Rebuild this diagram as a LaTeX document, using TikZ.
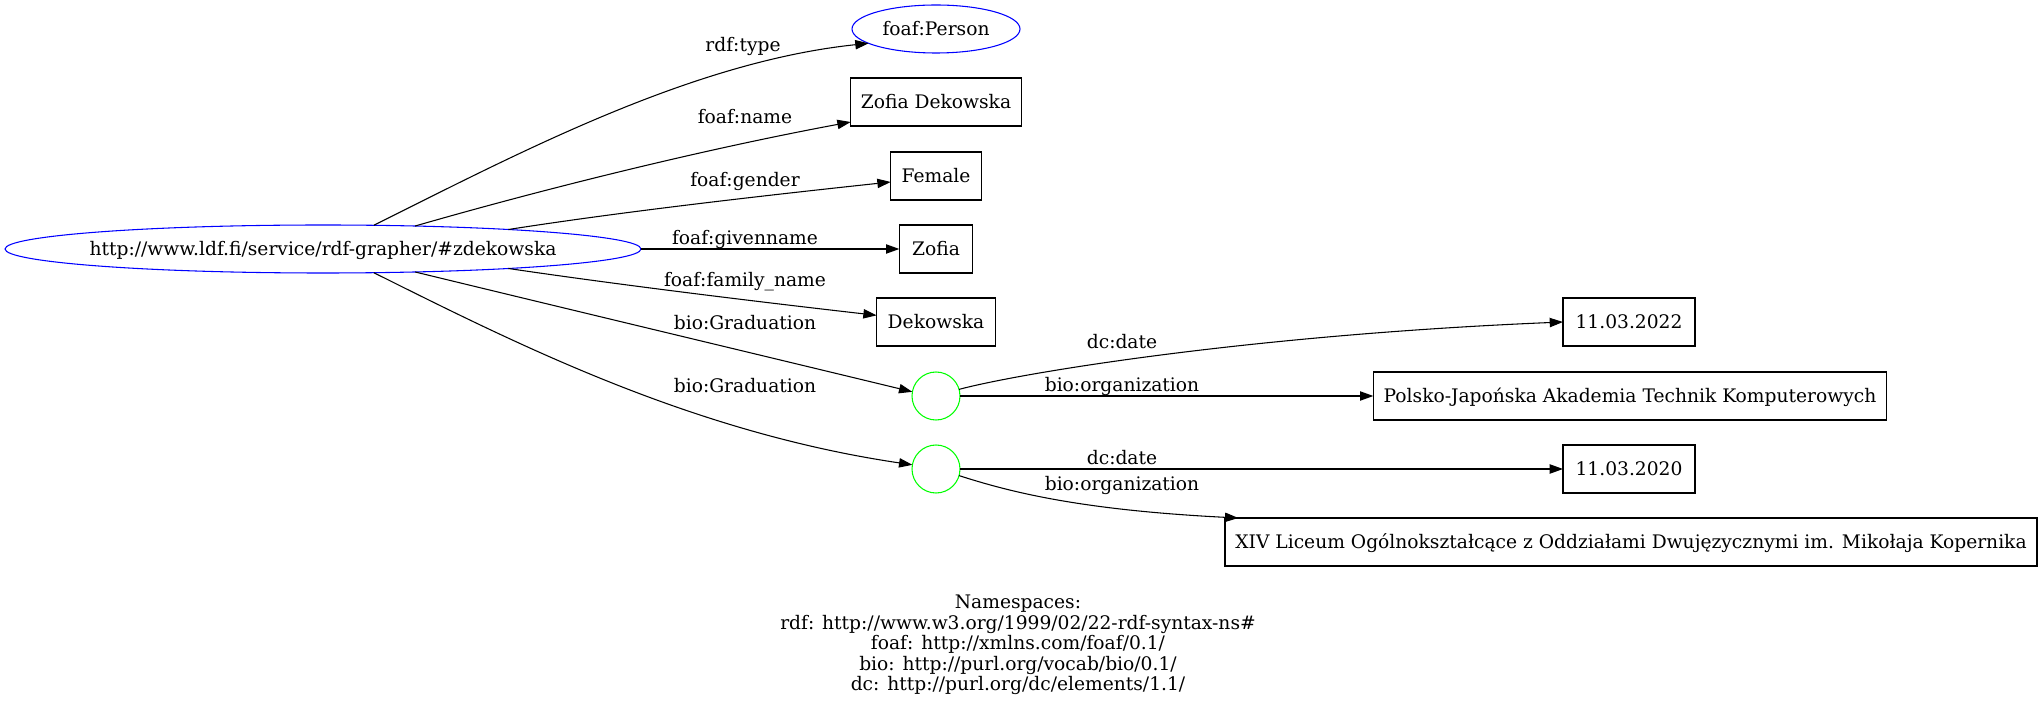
\documentclass[tikz,border=0pt]{standalone}
\usepackage{fontspec}
\setmainfont{DejaVu Serif}
\usetikzlibrary{arrows.meta,shapes.geometric}
\begin{document}
\begin{tikzpicture}[x=0.75pt,y=-0.75pt,
  every node/.style={font=\fontsize{14}{15.4}\selectfont, inner sep=0pt, outer sep=0pt, text height=10pt, text depth=0pt},
  res/.style={draw=blue, line width=0.8pt, ellipse, text=black},
  lit/.style={draw, line width=0.8pt, rectangle, minimum height=36pt},
  blank/.style={draw=green, line width=0.8pt, circle, minimum size=36pt},
  lbl/.style={},
  edge/.style={line width=0.8pt, -{Triangle[length=10pt,width=7pt]}}
]
\useasboundingbox (0,0) rectangle (2038,705);
% nodes
\node[res, minimum width=477pt, minimum height=36pt] (main) at (323,249) {\makebox[0pt][c]{http://www.ldf.fi/service/rdf-grapher/\#zdekowska}};
\node[res, minimum width=126pt, minimum height=36pt] (person) at (936,29) {\makebox[0pt][c]{foaf:Person}};
\node[lit, minimum width=128pt] (zd) at (936,102) {Zofia Dekowska};
\node[lit, minimum width=68pt] (female) at (936,176) {Female};
\node[lit, minimum width=55pt] (zofia) at (936,249) {Zofia};
\node[lit, minimum width=89pt] (dek) at (936,322) {Dekowska};
\node[blank] (b1) at (936,396) {};
\node[blank] (b2) at (936,469) {};
\node[lit, minimum width=99pt] (d22) at (1629,322) {11.03.2022};
\node[lit, minimum width=385pt] (pj) at (1630,396) {Polsko-Japońska Akademia Technik Komputerowych};
\node[lit, minimum width=99pt] (d20) at (1629,469) {11.03.2020};
\node[lit, minimum width=609pt] (xiv) at (1631,542) {XIV Liceum Ogólnokształcące z Oddziałami Dwujęzycznymi im. Mikołaja Kopernika};
% edges
\draw[edge] (main.25.6) .. controls (515,155) and (690,62) .. (person.192);
\draw[edge] (main.14.6) .. controls (540,190) and (700,150) .. ([yshift=3pt]zd.south west);
\draw[edge] (main.6.8) .. controls (620,212) and (760,196) .. ([yshift=-4.5pt]female.west);
\draw[edge] (main.east) -- (zofia.west);
\draw[edge] (main.-6.8) .. controls (620,285) and (760,302) .. ([yshift=5pt]dek.west);
\draw[edge] (main.-14.6) .. controls (580,312) and (760,355) .. (b1.170);
\draw[edge] (main.-25.6) .. controls (515,343) and (690,432) .. (b2.170);
\draw[edge] (b1.16) .. controls (1020,373) and (1250,335) .. (d22.west);
\draw[edge] (b1.east) -- (pj.west);
\draw[edge] (b2.east) -- (d20.west);
\draw[edge] (b2.-16) .. controls (1010,492) and (1080,510) .. ([xshift=10pt]xiv.north west);
% labels
\node[lbl] (l1) at (743,45) {rdf:type};
\node[lbl] (l2) at (745,117) {foaf:name};
\node[lbl] (l3) at (745,180) {foaf:gender};
\node[lbl] (l4) at (745,238) {foaf:givenname};
\node[lbl] (l5) at (745,280) {foaf:family\_name};
\node[lbl] (l6) at (745,323) {bio:Graduation};
\node[lbl] (l7) at (745,386) {bio:Graduation};
\node[lbl] (l8) at (1122,342) {dc:date};
\node[lbl] (l9) at (1122,385) {bio:organization};
\node[lbl] (l10) at (1122,458) {dc:date};
\node[lbl] (l11) at (1122,484) {bio:organization};
% namespaces
\node[align=center, text height=, text depth=] (ns) at (1018,645) {Namespaces:\\rdf: http://www.w3.org/1999/02/22-rdf-syntax-ns\#\\foaf: http://xmlns.com/foaf/0.1/\\bio: http://purl.org/vocab/bio/0.1/\\dc: http://purl.org/dc/elements/1.1/};
\end{tikzpicture}
\end{document}
